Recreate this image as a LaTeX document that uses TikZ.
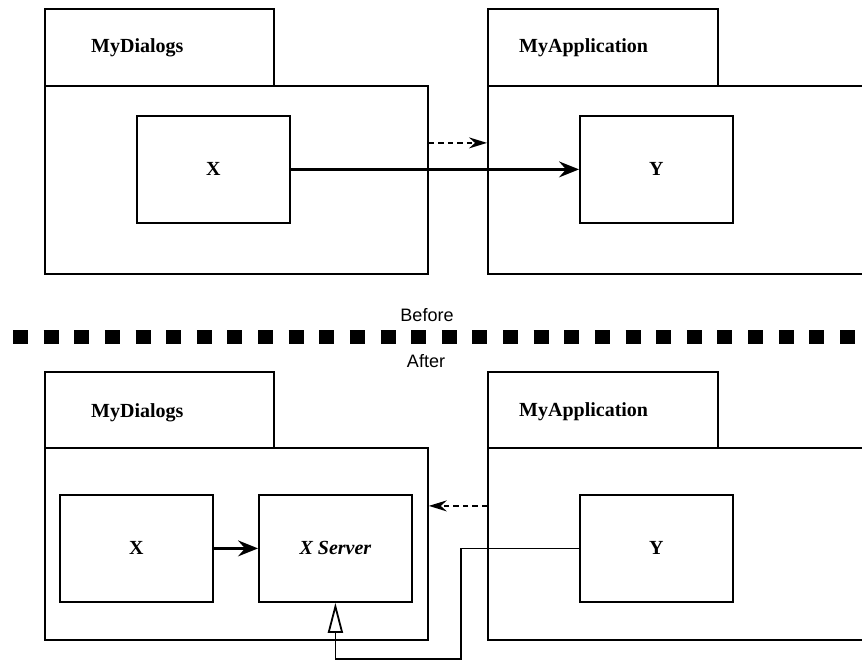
\documentclass[tikz,border=0pt]{standalone}
\usepackage{fontspec}
\setmainfont{Liberation Serif}
\newfontfamily\capfont{Liberation Sans}
\usetikzlibrary{arrows.meta}

\tikzset{
  pkgbox/.style={draw, line width=1.8pt, inner sep=0pt, anchor=north west},
  classbox/.style={draw, line width=1.8pt, inner sep=0pt, anchor=north west,
    minimum width=153pt, minimum height=107pt, font=\fontsize{20}{24}\selectfont\bfseries},
  pkgname/.style={anchor=base west, inner sep=0pt, font=\fontsize{20}{24}\selectfont\bfseries},
  uses/.style={line width=2.3pt, -{Stealth[length=20pt, width=16pt, inset=7pt]}},
  dep/.style={line width=1.9pt, dash pattern=on 5.5pt off 4pt,
    -{Stealth[length=18pt, width=11pt, inset=6pt]}},
  realizes/.style={line width=1.8pt, -{Triangle[open, length=30pt, width=15pt, line width=1.8pt]}},
  caption/.style={inner sep=0pt, anchor=base, font=\capfont\fontsize{18}{21}\selectfont},
}

\begin{document}
\begin{tikzpicture}[x=1pt, y=-1pt]
  \useasboundingbox (0,0) rectangle (862,660);
  \clip (0,0) rectangle (862,660);

  % ---- before the split ----
  \node[pkgbox, minimum width=229pt, minimum height=77pt] (dlgTab) at (44,8) {};
  \node[pkgbox, minimum width=383pt, minimum height=188pt] (dlgBody) at (44,85) {};
  \node[pkgname] (dlgName) at (91,53) {MyDialogs};

  \node[pkgbox, minimum width=230pt, minimum height=77pt] (appTab) at (487,8) {};
  \node[pkgbox, minimum width=420pt, minimum height=188pt] (appBody) at (487,85) {};
  \node[pkgname] (appName) at (519,53) {MyApplication};

  \node[classbox] (x1) at (136,115) {X};
  \node[classbox] (y1) at (579,115) {Y};

  \draw[uses] (x1.east) -- (y1.west);
  \draw[dep] ([yshift=37pt]dlgBody.east) -- ([yshift=37pt]appBody.west);

  % ---- separator ----
  \node[caption] (before) at (427,322) {Before};
  \draw[line width=14pt, dash pattern=on 15pt off 15.63pt] (13,337) -- (870,337);
  \node[caption] (after) at (426,367) {After};

  % ---- after the split ----
  \node[pkgbox, minimum width=229pt, minimum height=76pt] (dlgTab2) at (44,371) {};
  \node[pkgbox, minimum width=383pt, minimum height=192pt] (dlgBody2) at (44,447) {};
  \node[pkgname] (dlgName2) at (91,417) {MyDialogs};

  \node[pkgbox, minimum width=230pt, minimum height=76pt] (appTab2) at (487,371) {};
  \node[pkgbox, minimum width=420pt, minimum height=192pt] (appBody2) at (487,447) {};
  \node[pkgname] (appName2) at (519,416) {MyApplication};

  \node[classbox] (x2) at (59,494) {X};
  \node[classbox, font=\fontsize{20}{24}\selectfont\bfseries\itshape] (srv) at (258,494) {X Server};
  \node[classbox] (y2) at (579,494) {Y};

  \draw[uses] (x2.east) -- (srv.west);
  \draw[dep] ([yshift=38pt]appBody2.west) -- ([yshift=38pt]dlgBody2.east);

  \coordinate (bend) at (461,659);
  \draw[realizes] (y2.west) -| (bend) -| (srv.south);
\end{tikzpicture}
\end{document}
